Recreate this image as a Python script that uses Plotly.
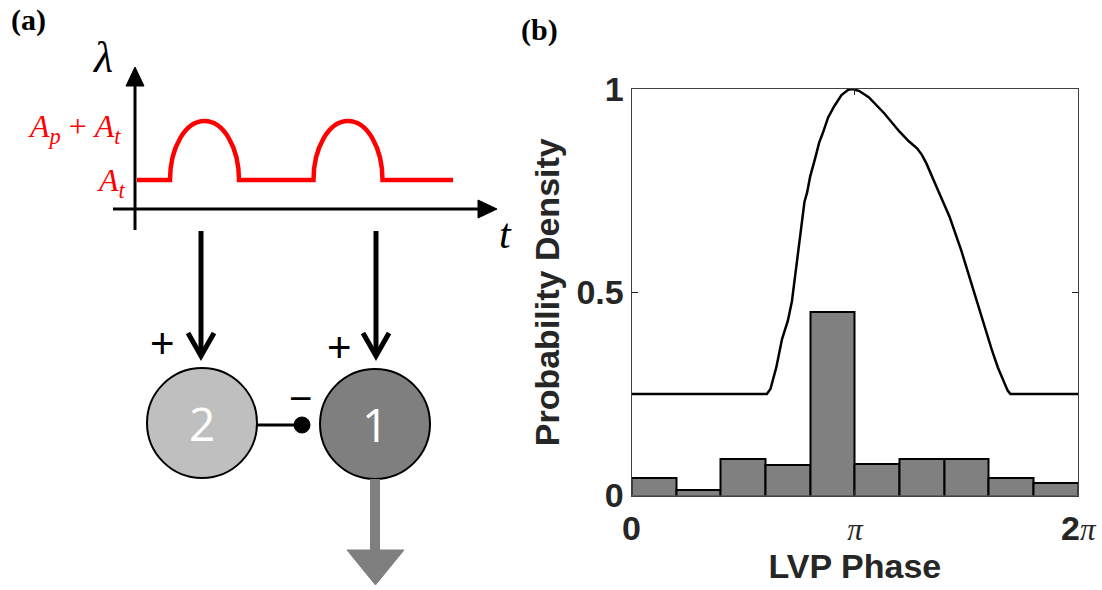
import numpy as np
import plotly.graph_objects as go

# ---------------- data (panel b) ----------------
n_bins = 10
bin_prob = [0.043, 0.014, 0.091, 0.075, 0.452, 0.078, 0.091, 0.091, 0.043, 0.030]

curve_phase = [0.000, 1.904, 1.954, 2.036, 2.117, 2.199, 2.256, 2.281, 2.325, 2.362,
               2.394, 2.432, 2.469, 2.513, 2.576, 2.639, 2.689, 2.765, 2.849, 2.953,
               3.047, 3.110, 3.204, 3.336, 3.550, 3.770, 3.896, 4.015, 4.084, 4.147,
               4.310, 4.474, 4.637, 4.794, 4.957, 5.064, 5.152, 5.228, 5.290, 5.328,
               6.283]
curve_density = [0.250, 0.250, 0.262, 0.315, 0.385, 0.430, 0.478, 0.512, 0.575, 0.628,
                 0.675, 0.722, 0.745, 0.785, 0.825, 0.868, 0.891, 0.930, 0.957, 0.985,
                 0.998, 1.000, 0.995, 0.980, 0.941, 0.895, 0.872, 0.854, 0.838, 0.817,
                 0.751, 0.685, 0.603, 0.512, 0.422, 0.360, 0.315, 0.285, 0.258, 0.250,
                 0.250]

x_tickvals = [0, np.pi, 2 * np.pi]
SERIF_PI = "<span style='font-family:Liberation Serif;font-size:31px'><i>π</i></span>"
x_ticktext = ["<b>0</b>", SERIF_PI, "<b>2</b>" + SERIF_PI]
y_tickvals = [0, 0.5, 1]
y_ticktext = ["<b>0</b>", "<b>0.5</b>", "<b>1</b>"]

W, H = 1102, 590
TXT = "#262626"

edges = np.linspace(0, 2 * np.pi, n_bins + 1)
centers = (edges[:-1] + edges[1:]) / 2
bw = edges[1] - edges[0]

fig = go.Figure()
fig.add_trace(go.Bar(x=centers, y=bin_prob, width=bw,
                     marker=dict(color="#808080", line=dict(color="black", width=2)),
                     showlegend=False, hoverinfo="skip"))
fig.add_trace(go.Scatter(x=curve_phase, y=curve_density, mode="lines",
                         line=dict(color="black", width=2.5),
                         showlegend=False, hoverinfo="skip"))
# dummy trace for overlay (pixel) axes
fig.add_trace(go.Scatter(x=[], y=[], xaxis="x2", yaxis="y2", showlegend=False))

x0d, x1d = 631.5 / W, 1078.3 / W
y0d, y1d = 1 - 495.5 / H, 1 - 89 / H

fig.update_layout(
    width=W, height=H,
    margin=dict(l=0, r=0, t=0, b=0),
    paper_bgcolor="white", plot_bgcolor="rgba(0,0,0,0)",
    font=dict(family="Liberation Sans", color=TXT),
    bargap=0,
    xaxis=dict(domain=[x0d, x1d], range=[0, 2 * np.pi], tickvals=x_tickvals,
               ticktext=x_ticktext, ticks="inside", ticklen=6, tickcolor=TXT,
               mirror="ticks", showline=True, linecolor="#404040", linewidth=1,
               showgrid=False, zeroline=False, automargin=False,
               tickfont=dict(size=34, color=TXT, family="Liberation Sans"),
               ticklabelstandoff=3,
               title=dict(text="<b>LVP Phase</b>", font=dict(size=34, color=TXT),
                          standoff=6),
               anchor="y"),
    yaxis=dict(domain=[y0d, y1d], range=[0, 1], tickvals=y_tickvals,
               ticktext=y_ticktext, ticks="inside", ticklen=6, tickcolor=TXT,
               mirror="ticks", showline=True, linecolor="#404040", linewidth=1,
               showgrid=False, zeroline=False, automargin=False,
               tickfont=dict(size=34, color=TXT, family="Liberation Sans"),
               ticklabelstandoff=0,
               title=dict(text="<b>Probability Density</b>",
                          font=dict(size=34, color=TXT), standoff=6),
               anchor="x"),
    xaxis2=dict(domain=[0, 1], range=[0, W], visible=False, anchor="y2",
                fixedrange=True),
    yaxis2=dict(domain=[0, 1], range=[H, 0], visible=False, anchor="x2",
                fixedrange=True),
)

shapes = []
def add(**kw):
    kw.setdefault("xref", "x2")
    kw.setdefault("yref", "y2")
    kw.setdefault("layer", "above")
    shapes.append(kw)

# schematic axes (lambda vs t)
add(type="line", x0=135, y0=230, x1=135, y1=84, line=dict(color="black", width=3))
add(type="path", path="M126,86 L144,86 L135,67 Z", fillcolor="black",
    line=dict(color="black", width=1))
add(type="line", x0=113, y0=209, x1=480, y1=209, line=dict(color="black", width=3))
add(type="path", path="M478,200 L478,218 L497,209 Z", fillcolor="black",
    line=dict(color="black", width=1))

# red lambda(t) curve
k = 0.5523
base, top, hw = 180, 121, 34.5
def bump(xl):
    xc = xl + hw
    xr = xl + 2 * hw
    return (f" L{xl},{base} C{xl},{base - k * (base - top):.1f} {xc - k * hw:.1f},{top} {xc},{top}"
            f" C{xc + k * hw:.1f},{top} {xr},{base - k * (base - top):.1f} {xr},{base}")
red_path = f"M137,{base}" + bump(170) + bump(313.5) + f" L453,{base}"
add(type="path", path=red_path, line=dict(color="#ff0000", width=4.5))

# black input arrows
for xa in (201, 376):
    add(type="line", x0=xa, y0=231, x1=xa, y1=353, line=dict(color="black", width=5))
    add(type="path", path=f"M{xa - 13},333 L{xa},356 L{xa + 13},333",
        line=dict(color="black", width=5))

# inhibitory connection
add(type="line", x0=255, y0=425, x1=302, y1=425, line=dict(color="black", width=3))
add(type="circle", x0=294, y0=417, x1=310, y1=433, fillcolor="black",
    line=dict(color="black", width=1))

# neurons
add(type="circle", x0=147, y0=368, x1=257, y1=478, fillcolor="#bfbfbf",
    line=dict(color="black", width=2))
add(type="circle", x0=320, y0=369, x1=430, y1=479, fillcolor="#7f7f7f",
    line=dict(color="black", width=2))

# gray output arrow
add(type="rect", x0=370, y0=479, x1=380, y1=551, fillcolor="#7f7f7f",
    line=dict(width=0))
add(type="path", path="M347,550 L404,550 L375.5,585 Z", fillcolor="#7f7f7f",
    line=dict(color="#7f7f7f", width=1))

fig.update_layout(shapes=shapes)

ann = []
def text(x, y, s, size, color="black", family="Liberation Sans", xanchor="center",
         yanchor="middle", **kw):
    ann.append(dict(x=x, y=y, xref="x2", yref="y2", text=s, showarrow=False,
                    xanchor=xanchor, yanchor=yanchor,
                    font=dict(size=size, color=color, family=family, **kw)))

text(28, 20, "<b>(a)</b>", 30, family="Liberation Serif")
text(539, 30, "<b>(b)</b>", 30, family="Liberation Serif")
text(102, 57, "<i>λ</i>", 44, family="Liberation Serif")
text(505, 234, "<i>t</i>", 42, family="Liberation Serif")
text(123, 128, "<i>A<sub>p</sub></i> + <i>A<sub>t</sub></i>", 32, color="#ff0000",
     family="Liberation Serif", xanchor="right")
text(128, 182, "<i>A<sub>t</sub></i>", 32, color="#ff0000",
     family="Liberation Serif", xanchor="right")
text(162, 343, "+", 42)
text(339, 347, "+", 42)
text(300, 398, "−", 40)
text(202, 423, "2", 46, color="white", family="Open Sans")
text(375, 424, "1", 46, color="white", family="Open Sans")

fig.update_layout(annotations=ann)

fig.write_html("out.html", config={"displayModeBar": False},
               post_script="document.body.style.margin='0';")
